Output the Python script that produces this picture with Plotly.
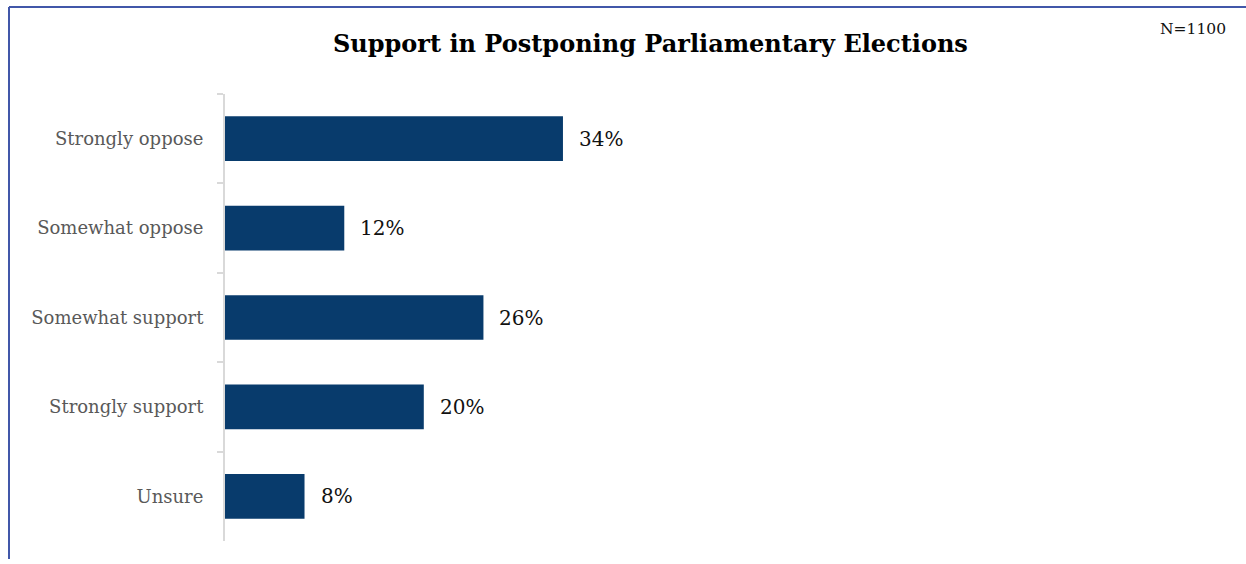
import plotly.graph_objects as go

# Survey responses (share of respondents, %)
categories = ["Strongly oppose", "Somewhat oppose", "Somewhat support", "Strongly support", "Unsure"]
values = [34, 12, 26, 20, 8]
value_labels = [f"{v}%" for v in values]

title_text = "Support in Postponing Parliamentary Elections"
sample_note = "N=1100"

W, H = 1246, 564
L, R, T, B = 225, 27, 94, 23
plot_w = W - L - R
plot_h = H - T - B

serif = "Georgia, 'DejaVu Serif', 'Liberation Serif', serif"
bar_color = "#083B6C"
frame_color = "#4157A9"

fig = go.Figure()
fig.add_trace(go.Bar(
    x=values,
    y=categories,
    orientation="h",
    marker=dict(color=bar_color, line=dict(width=0)),
    width=0.5,
    hoverinfo="skip",
))

# Value labels just to the right of each bar
for cat, v, lab in zip(categories, values, value_labels):
    fig.add_annotation(
        x=v, y=cat, text=lab, showarrow=False,
        xanchor="left", yanchor="middle", xshift=14,
        font=dict(family=serif, size=20, color="#111111"),
    )

# Title and sample-size note
fig.add_annotation(
    x=(650 - L) / plot_w, y=(H - B - 43) / plot_h, xref="paper", yref="paper",
    text=f"<b>{title_text}</b>", showarrow=False,
    xanchor="center", yanchor="middle",
    font=dict(family=serif, size=24, color="#000000"),
)
fig.add_annotation(
    x=(1228 - L) / plot_w, y=(H - B - 29) / plot_h, xref="paper", yref="paper",
    text=sample_note, showarrow=False,
    xanchor="right", yanchor="middle",
    font=dict(family=serif, size=15.5, color="#111111"),
)

# Frame along the top and left edges
x_left = (9 - L) / plot_w
y_top = (H - B - 7) / plot_h
fig.add_shape(type="line", xref="paper", yref="paper",
              x0=x_left, x1=(W + 5 - L) / plot_w, y0=y_top, y1=y_top,
              line=dict(color=frame_color, width=2))
fig.add_shape(type="line", xref="paper", yref="paper",
              x0=x_left, x1=x_left, y0=y_top, y1=(H - B + 5 - H) / plot_h,
              line=dict(color=frame_color, width=2))

fig.update_layout(
    width=W, height=H,
    margin=dict(l=L, r=R, t=T, b=B),
    paper_bgcolor="white",
    plot_bgcolor="white",
    showlegend=False,
    bargap=0.5,
    xaxis=dict(range=[0, 100], visible=False, fixedrange=True),
    yaxis=dict(
        categoryorder="array", categoryarray=categories, autorange="reversed",
        showline=True, linecolor="#D9D9D9", linewidth=2,
        ticks="outside", tickson="boundaries", ticklen=6, tickcolor="#D9D9D9", tickwidth=2,
        ticklabelstandoff=16,
        showgrid=False, zeroline=False,
        tickfont=dict(family=serif, size=18, color="#595959"),
        fixedrange=True,
    ),
)

fig.write_html("out.html")
